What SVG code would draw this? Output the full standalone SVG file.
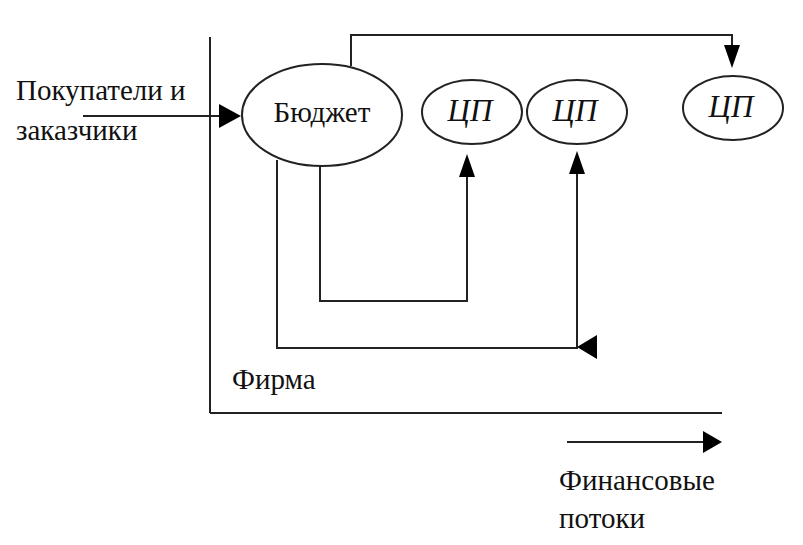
<svg xmlns="http://www.w3.org/2000/svg" width="803" height="545" viewBox="0 0 803 545">
<defs>
<style>
.n{font-size:29px;fill:#111;}
.i{font-size:31px;font-style:italic;fill:#111;}
.sh{fill:#fff;stroke:#222;stroke-width:2;}
.ln{fill:none;stroke:#222;stroke-width:2;}
.ah{fill:#000;}
</style>
</defs>
<rect width="803" height="545" fill="#fff"/>
<g id="frame">
<line class="ln" x1="210" y1="37" x2="210" y2="413"/>
<line class="ln" x1="210" y1="413" x2="722" y2="413" stroke-width="2.5"/>
</g>
<g id="connectors">
<path class="ln" d="M83,116 L222,116" stroke-width="3"/>
<path class="ah" d="M219,104 L241,116 L219,128 Z"/>
<path class="ln" d="M351,66 L351,35 L732,35 L732,48"/>
<path class="ah" d="M724,45 L732,68 L740,45 Z"/>
<path class="ln" d="M320,166 L320,301 L467,301 L467,172"/>
<path class="ah" d="M459,177 L467,154 L475,177 Z"/>
<path class="ln" d="M277,160 L277,348 L577,348 L577,172"/>
<path class="ah" d="M569,174 L577,151 L585,174 Z"/>
<path class="ah" d="M597,335 L577,347 L597,359 Z"/>
<path class="ln" d="M567,442 L708,442"/>
<path class="ah" d="M703,431 L722,442 L703,453 Z"/>
</g>
<g id="buyers">
<text class="n" style="font-family:'Liberation Serif',serif" x="16" y="100">Покупатели и</text>
<text class="n" style="font-family:'Liberation Serif',serif" x="16" y="140">заказчики</text>
</g>
<g id="budget">
<ellipse class="sh" cx="322" cy="115" rx="80" ry="51"/>
<text class="n" style="font-family:'Liberation Serif',serif" x="322" y="122" text-anchor="middle">Бюджет</text>
</g>
<g id="cp1">
<ellipse class="sh" cx="472" cy="112" rx="50" ry="32"/>
<text class="i" style="font-family:'Liberation Serif',serif" x="470" y="121" text-anchor="middle">ЦП</text>
</g>
<g id="cp2">
<ellipse class="sh" cx="577" cy="112" rx="50" ry="32"/>
<text class="i" style="font-family:'Liberation Serif',serif" x="575" y="121" text-anchor="middle">ЦП</text>
</g>
<g id="cp3">
<ellipse class="sh" cx="733" cy="108" rx="50" ry="32"/>
<text class="i" style="font-family:'Liberation Serif',serif" x="731" y="117" text-anchor="middle">ЦП</text>
</g>
<g id="firm">
<text class="n" style="font-family:'Liberation Serif',serif" x="232" y="389">Фирма</text>
</g>
<g id="legend">
<text class="n" style="font-family:'Liberation Serif',serif" x="559" y="490">Финансовые</text>
<text class="n" style="font-family:'Liberation Serif',serif" x="559" y="528">потоки</text>
</g>
</svg>
